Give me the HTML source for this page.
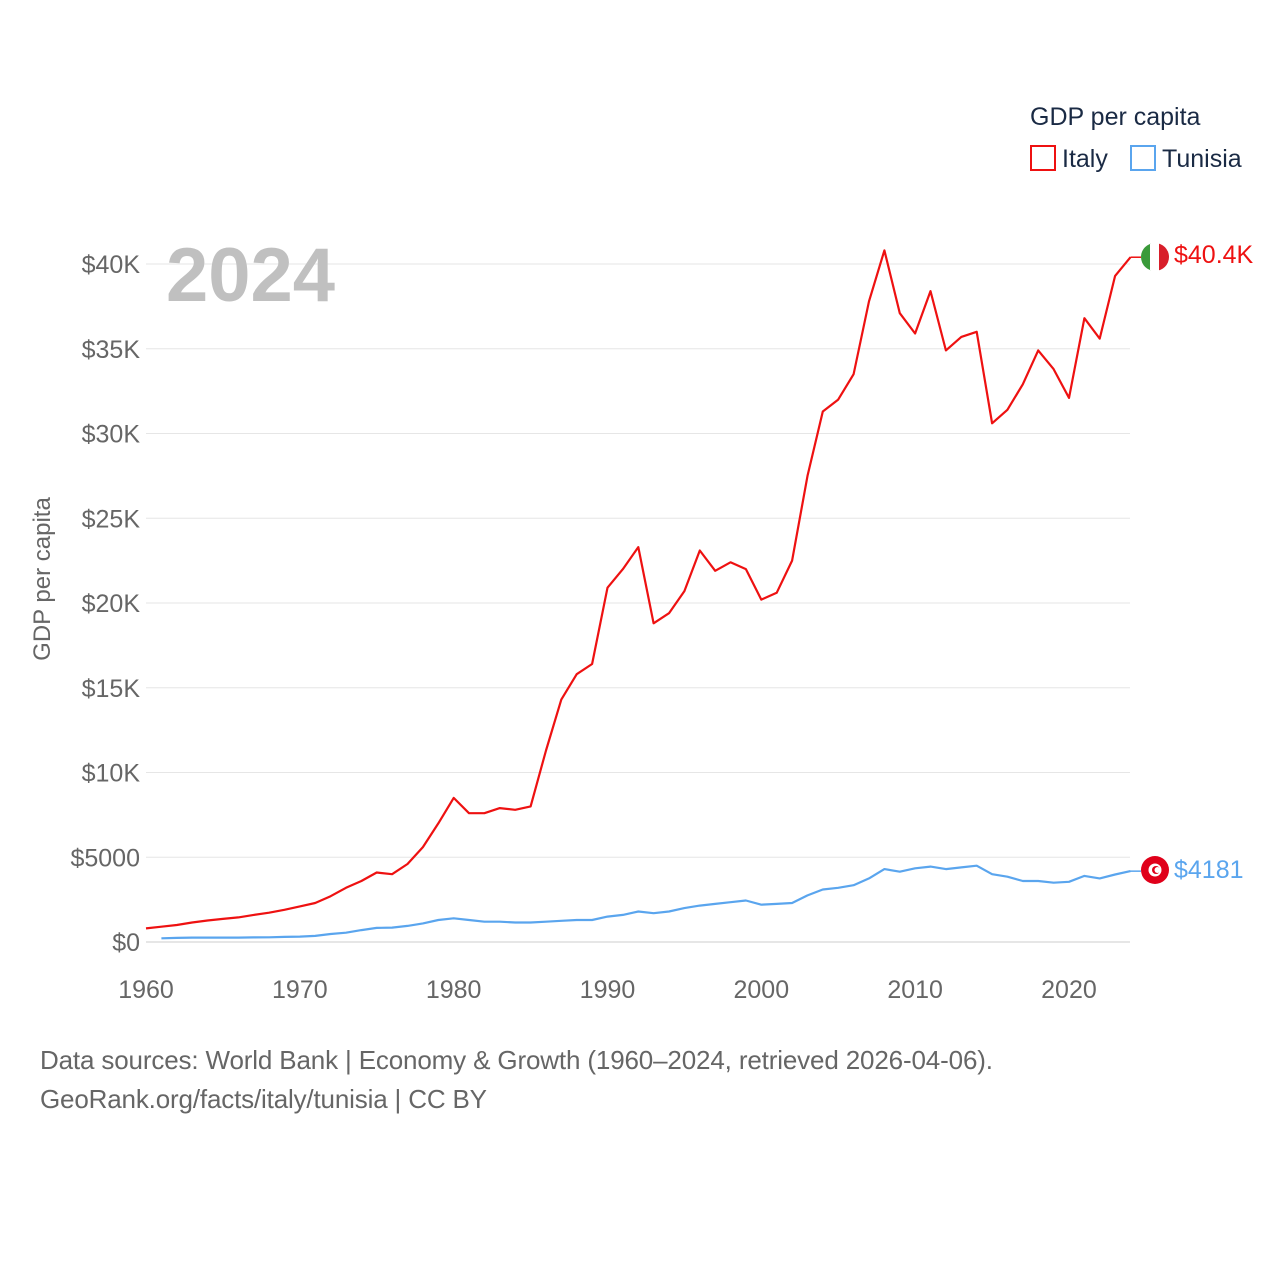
<!DOCTYPE html>
<html><head><meta charset="utf-8"><style>
body{margin:0;background:#fff;}
svg text{font-family:"Liberation Sans",sans-serif;}
</style></head><body>
<svg width="1280" height="1280" viewBox="0 0 1280 1280">
<g id="grid"></g>
<g id="yticks"></g>
<g id="xticks"></g>
<text x="166" y="301" font-size="76" font-weight="bold" fill="#c0c0c0">2024</text>
<text transform="translate(50,579) rotate(-90)" text-anchor="middle" font-size="24" fill="#666">GDP per capita</text>
<g id="series"></g>
<g>
<text x="1030" y="125" font-size="25" fill="#1a2a44">GDP per capita</text>
<g><rect x="1031" y="146" width="24" height="24" fill="none" stroke="#ee1111" stroke-width="2"/><text x="1062" y="167" font-size="25" fill="#1a2a44">Italy</text></g>
<g><rect x="1131" y="146" width="24" height="24" fill="none" stroke="#5aa5ee" stroke-width="2"/><text x="1162" y="167" font-size="25" fill="#1a2a44">Tunisia</text></g>
</g>
<g>
<clipPath id="c1"><circle cx="1155" cy="257" r="14"/></clipPath>
<g clip-path="url(#c1)"><rect x="1141" y="243" width="10" height="28" fill="#3a9a3a"/><rect x="1150" y="243" width="10" height="28" fill="#fff"/><rect x="1159" y="243" width="10" height="28" fill="#d81e2a"/></g>
</g>
<g>
<circle cx="1155" cy="870" r="14" fill="#e0001a"/><circle cx="1155" cy="870" r="6.5" fill="#fff"/><circle cx="1156" cy="870" r="4" fill="#e0001a"/><circle cx="1157.5" cy="870" r="3" fill="#fff"/>
</g>
<text x="1174" y="263" font-size="25" fill="#ee1111">$40.4K</text>
<text x="1174" y="878" font-size="25" fill="#5aa5ee">$4181</text>
<text x="40" y="1069" font-size="26" fill="#666" textLength="953">Data sources: World Bank | Economy &amp; Growth (1960–2024, retrieved 2026-04-06).</text>
<text x="40" y="1108" font-size="26" fill="#666" textLength="447">GeoRank.org/facts/italy/tunisia | CC BY</text>
</svg>
<script>
const yTicks=[0,5,10,15,20,25,30,35,40];
const yTickLabels=["$0","$5000","$10K","$15K","$20K","$25K","$30K","$35K","$40K"];
const xTicks=[1960,1970,1980,1990,2000,2010,2020];
const italyStart=1960;
const italy=[0.8,0.9,1.0,1.15,1.27,1.36,1.45,1.6,1.73,1.9,2.1,2.3,2.7,3.2,3.6,4.1,4.0,4.6,5.6,7.0,8.5,7.6,7.6,7.9,7.8,8.0,11.3,14.3,15.8,16.4,20.9,22.0,23.3,18.8,19.4,20.7,23.1,21.9,22.4,22.0,20.2,20.6,22.5,27.5,31.3,32.0,33.5,37.8,40.8,37.1,35.9,38.4,34.9,35.7,36.0,30.6,31.4,32.9,34.9,33.8,32.1,36.8,35.6,39.3,40.4];
const tunisiaStart=1961;
const tunisia=[0.22,0.24,0.26,0.26,0.26,0.26,0.27,0.28,0.3,0.32,0.36,0.47,0.55,0.7,0.83,0.85,0.95,1.1,1.3,1.4,1.3,1.2,1.2,1.15,1.15,1.2,1.25,1.3,1.3,1.5,1.6,1.8,1.7,1.8,2.0,2.15,2.25,2.35,2.45,2.2,2.25,2.3,2.75,3.1,3.2,3.35,3.75,4.3,4.15,4.35,4.45,4.3,4.4,4.5,4.0,3.85,3.6,3.6,3.5,3.55,3.9,3.75,3.98,4.18];
const NS="http://www.w3.org/2000/svg";
const xs=y=>146+(y-1960)*(1130.5-146)/64;
const ys=v=>942-v*(942-264)/40;
function mk(t,a,p){const e=document.createElementNS(NS,t);for(const k in a)e.setAttribute(k,a[k]);p.appendChild(e);return e;}
const grid=document.getElementById('grid'),yt=document.getElementById('yticks'),xt=document.getElementById('xticks'),se=document.getElementById('series');
yTicks.forEach((v,i)=>{
 const l=mk('line',{x1:146,x2:1130,y1:ys(v),y2:ys(v),stroke:v===0?'#ccc':'#e6e6e6','stroke-width':1},grid);
 
 
 const t=mk('text',{x:140,y:ys(v)+9,'text-anchor':'end','font-size':25,fill:'#666'},yt);
 t.textContent=yTickLabels[i];
 
 
});
xTicks.forEach(v=>{
 const t=mk('text',{x:xs(v),y:998,'text-anchor':'middle','font-size':25,fill:'#666'},xt);
 t.textContent=v;
 
 
});
function line(arr,start,color,name){
 const d=arr.map((v,i)=>(i?'L':'M')+xs(start+i).toFixed(1)+','+ys(v).toFixed(1)).join('');
 const p=mk('path',{d:d,fill:'none',stroke:color,'stroke-width':2.2,'stroke-linejoin':'round'},se);
 
 
 const last=arr[arr.length-1];
 mk('line',{x1:xs(start+arr.length-1),x2:1141,y1:ys(last),y2:ys(last),stroke:color,'stroke-width':1.5},se);
}
line(italy,italyStart,'#ee1111','italy-line');
line(tunisia,tunisiaStart,'#5aa5ee','tunisia-line');
</script>
</body></html>
